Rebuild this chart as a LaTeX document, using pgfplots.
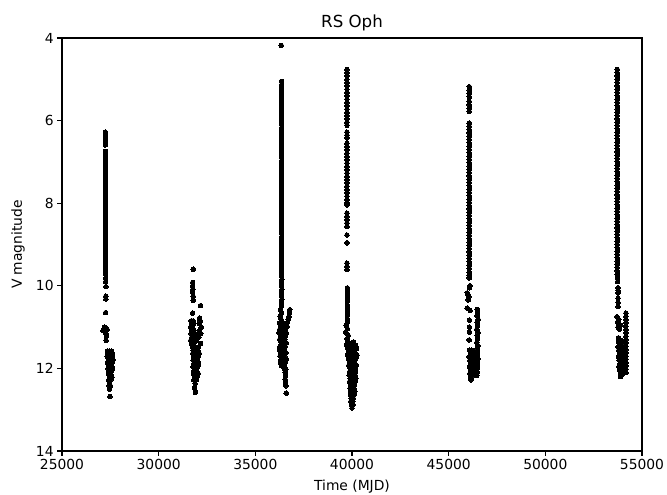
\documentclass[border=0pt]{standalone}
\usepackage{pgfplots}
\pgfplotsset{compat=1.18}
\usepackage{fontspec}
\setmainfont{DejaVu Sans}
\begin{document}
\begin{tikzpicture}
\useasboundingbox (-62bp,-44bp) rectangle (605bp,451bp);
\begin{axis}[
 at={(0,0)}, anchor=south west,
 scale only axis, width=580bp, height=413bp,
 xmin=25000, xmax=55000, ymin=4, ymax=14, y dir=reverse,
 xtick={25000,30000,35000,40000,45000,50000,55000},
 ytick={4,6,8,10,12,14},
 scaled x ticks=false,
 /pgf/number format/1000 sep={},
 /pgf/number format/assume math mode=true,
 tick align=outside, tick pos=left, major tick length=4.9bp,
 every tick/.style={black, line width=1.1bp},
 axis line style={line width=1.1bp},
 ticklabel style={font=\fontsize{13.9}{16}\selectfont},
 title={RS Oph}, xlabel={Time (MJD)}, ylabel={V magnitude},
 title style={font=\fontsize{16.7}{20}\selectfont, at={(axis description cs:0.5,1.022)}, anchor=center},
 xlabel style={font=\fontsize{13.9}{16}\selectfont, at={(axis description cs:0.5,-0.0872)}, anchor=center},
 ylabel style={font=\fontsize{13.9}{16}\selectfont, at={(axis description cs:-0.0759,0.5)}, anchor=center},
 clip=true,
]
\addplot[only marks, mark=*, mark size=2.3bp, mark options={fill=black, draw=black, line width=0pt}] coordinates {
% cluster 1
(27240,6.28) (27250,6.36) (27240,6.44) (27250,6.52) (27240,6.59)
(27250,6.75) (27250,6.83) (27250,6.91) (27250,6.99) (27250,7.07) (27250,7.15) (27250,7.23) (27250,7.31) (27250,7.39) (27250,7.47)
(27250,7.55) (27250,7.63) (27250,7.71) (27250,7.79) (27250,7.87) (27250,7.95) (27250,8.03) (27250,8.11) (27250,8.19) (27250,8.27)
(27250,8.35) (27250,8.43) (27250,8.51) (27250,8.59) (27250,8.67) (27250,8.75) (27250,8.83) (27250,8.91) (27250,8.99) (27250,9.07)
(27250,9.15) (27250,9.23) (27250,9.31) (27250,9.39) (27250,9.47) (27250,9.55) (27250,9.63) (27250,9.71) (27260,9.82) (27260,9.90) (27270,10.02)
(27270,10.25) (27270,10.32) (27260,10.65)
(27120,11.08) (27200,11.0) (27250,11.15) (27330,11.05) (27300,11.2) (27280,11.32)
(27350,11.58) (27450,11.58) (27560,11.58) (27380,11.65) (27500,11.65) (27620,11.65) (27340,11.72) (27460,11.72) (27580,11.72)
(27400,11.79) (27520,11.79) (27640,11.79) (27360,11.86) (27480,11.86) (27600,11.86) (27420,11.93) (27540,11.93)
(27380,12.00) (27500,12.00) (27620,12.00) (27440,12.07) (27560,12.07) (27400,12.14) (27520,12.14) (27460,12.21) (27580,12.21)
(27420,12.28) (27520,12.28) (27460,12.35) (27440,12.42) (27500,12.42) (27460,12.50) (27480,12.68)
% cluster 2
(31790,9.6) (31760,9.92) (31760,10.0) (31770,10.08) (31760,10.16) (31780,10.25) (31790,10.35) (32170,10.48) (31760,10.66) (32120,10.78)
(31680,10.85) (31780,10.85) (32150,10.85) (31700,10.92) (31800,10.92) (32100,10.92) (31660,11.00) (31760,11.00) (32200,11.00)
(31700,11.08) (31820,11.08) (32120,11.08) (31680,11.16) (31780,11.16) (31900,11.16) (32180,11.16) (31720,11.24) (31840,11.24) (32080,11.24)
(31660,11.32) (31760,11.32) (31960,11.32) (31700,11.40) (31820,11.40) (32160,11.40) (31740,11.48) (31880,11.48) (32060,11.48)
(31780,11.56) (31920,11.56) (32020,11.56) (31760,11.64) (31860,11.64) (31980,11.64) (32100,11.64) (31800,11.72) (31920,11.72) (32040,11.72)
(31780,11.80) (31880,11.80) (32000,11.80) (31820,11.88) (31940,11.88) (32060,11.88) (31780,11.96) (31900,11.96) (32020,11.96)
(31840,12.04) (31960,12.04) (31800,12.12) (31920,12.12) (32040,12.12) (31860,12.20) (31980,12.20) (31820,12.28) (31940,12.28)
(31880,12.36) (31860,12.46) (31900,12.58)
% cluster 3
(36340,4.18)
(36360,5.05) (36360,5.13) (36360,5.21) (36360,5.29) (36360,5.37) (36360,5.45) (36360,5.53) (36360,5.61) (36360,5.69) (36360,5.77)
(36360,5.85) (36360,5.93) (36360,6.01) (36360,6.09) (36360,6.17) (36360,6.25) (36360,6.33) (36360,6.41) (36360,6.49) (36360,6.57)
(36360,6.65) (36360,6.73) (36360,6.81) (36360,6.89) (36360,6.97) (36360,7.05) (36360,7.13) (36360,7.21) (36360,7.29) (36360,7.37)
(36360,7.45) (36360,7.53) (36360,7.61) (36360,7.69) (36360,7.77) (36360,7.85) (36360,7.93) (36360,8.01) (36360,8.09) (36360,8.17)
(36360,8.25) (36360,8.33) (36360,8.41) (36360,8.49) (36360,8.57) (36360,8.65) (36360,8.73) (36360,8.81) (36360,8.89) (36360,8.97)
(36360,9.05) (36360,9.13) (36360,9.21) (36360,9.29) (36360,9.37) (36360,9.45) (36360,9.53) (36360,9.61) (36360,9.69) (36360,9.77)
(36370,9.85) (36350,9.93) (36360,10.01) (36370,10.09) (36350,10.17) (36360,10.25) (36370,10.33) (36350,10.41) (36360,10.49)
(36300,10.58) (36780,10.58) (36360,10.66) (36760,10.66) (36280,10.74) (36740,10.74) (36340,10.82) (36700,10.82)
(36240,10.90) (36420,10.90) (36640,10.90) (36300,10.98) (36500,10.98) (36640,10.98) (36260,11.06) (36380,11.06) (36540,11.06)
(36220,11.14) (36340,11.14) (36480,11.14) (36600,11.14) (36300,11.22) (36420,11.22) (36560,11.22) (36260,11.30) (36380,11.30) (36520,11.30)
(36340,11.38) (36460,11.38) (36600,11.38) (36280,11.46) (36400,11.46) (36540,11.46) (36240,11.54) (36360,11.54) (36500,11.54)
(36320,11.62) (36440,11.62) (36580,11.62) (36280,11.70) (36400,11.70) (36520,11.70) (36340,11.78) (36460,11.78) (36600,11.78)
(36300,11.86) (36420,11.86) (36540,11.86) (36360,11.94) (36480,11.94) (36520,12.02) (36580,12.02) (36540,12.10) (36560,12.18)
(36540,12.26) (36560,12.34) (36580,12.42) (36600,12.60)
% cluster 4
(39740,4.76) (39740,4.84) (39740,4.92) (39740,5.00) (39740,5.08) (39740,5.16) (39740,5.24) (39740,5.32) (39740,5.40) (39740,5.48)
(39740,5.56) (39740,5.64) (39740,5.72) (39740,5.80) (39740,5.88) (39740,5.96) (39740,6.04) (39740,6.11)
(39740,6.28) (39740,6.35) (39740,6.42)
(39740,6.55) (39740,6.63) (39740,6.71) (39740,6.79) (39740,6.87) (39740,6.95) (39740,7.03) (39740,7.11) (39740,7.19) (39740,7.27)
(39740,7.35) (39740,7.43) (39740,7.51) (39740,7.59) (39740,7.67) (39740,7.75) (39740,7.83) (39740,7.91) (39740,7.99) (39740,8.04)
(39740,8.24) (39740,8.32) (39740,8.40) (39740,8.48) (39740,8.56) (39740,8.77) (39740,8.96)
(39740,9.45) (39740,9.53) (39740,9.61)
(39760,10.05) (39760,10.13) (39760,10.21) (39760,10.29) (39760,10.37) (39760,10.47) (39760,10.55) (39760,10.63) (39760,10.71) (39760,10.80) (39760,10.88)
(39700,10.96) (39760,11.04) (39680,11.12) (39800,11.2) (39740,11.28)
(39800,11.36) (40080,11.36) (39720,11.44) (39960,11.44) (40180,11.44) (39780,11.52) (40020,11.52) (40240,11.52)
(39840,11.60) (39980,11.60) (40120,11.60) (39760,11.68) (39900,11.68) (40160,11.68) (40260,11.68) (39820,11.76) (40040,11.76) (40200,11.76)
(39880,11.84) (40000,11.84) (40120,11.84) (39840,11.92) (39960,11.92) (40080,11.92) (40220,11.92) (39900,12.00) (40040,12.00) (40160,12.00)
(39880,12.08) (39980,12.08) (40080,12.08) (40180,12.08) (39860,12.16) (39960,12.16) (40060,12.16) (40160,12.16)
(39900,12.24) (40000,12.24) (40100,12.24) (40200,12.24) (39880,12.32) (39980,12.32) (40080,12.32) (40160,12.32)
(39920,12.40) (40020,12.40) (40120,12.40) (39900,12.48) (40000,12.48) (40100,12.48) (39940,12.56) (40040,12.56) (40140,12.56)
(39920,12.64) (40020,12.64) (40100,12.64) (39960,12.72) (40060,12.72) (39940,12.80) (40040,12.80) (39980,12.88) (40060,12.88) (40000,12.96)
% cluster 5
(46065,5.18) (46065,5.26) (46065,5.34) (46065,5.42) (46065,5.54) (46065,5.62) (46065,5.70) (46065,5.78)
(46065,6.06) (46065,6.14) (46065,6.22) (46065,6.30) (46065,6.38) (46065,6.46) (46065,6.54) (46065,6.62) (46065,6.70) (46065,6.78)
(46065,6.86) (46065,6.94) (46065,7.02) (46065,7.10) (46065,7.18) (46065,7.26) (46065,7.34) (46065,7.42) (46065,7.50) (46065,7.58)
(46065,7.66) (46065,7.74) (46065,7.82) (46065,7.90) (46065,7.98) (46065,8.06) (46065,8.14) (46065,8.22) (46065,8.30) (46065,8.38)
(46065,8.46) (46065,8.54) (46065,8.62) (46065,8.70) (46065,8.78) (46065,8.86) (46065,8.94) (46065,9.02) (46065,9.10) (46065,9.18)
(46065,9.26) (46065,9.34) (46065,9.42) (46065,9.50) (46065,9.58) (46065,9.67)
(46065,9.74) (46065,9.81) (46100,10.0) (46080,10.05) (45960,10.17) (46010,10.22) (46040,10.27) (46010,10.34)
(45960,10.54) (46110,10.6) (46070,10.83) (46070,11.0) (46070,11.12) (46060,11.31)
(46080,11.56) (46200,11.56) (46120,11.64) (46280,11.64) (46060,11.72) (46180,11.72) (46340,11.72) (46100,11.80) (46240,11.80)
(46140,11.88) (46300,11.88) (46080,11.96) (46200,11.96) (46360,11.96) (46120,12.04) (46260,12.04) (46100,12.12) (46220,12.12)
(46140,12.20) (46200,12.20) (46160,12.28)
(46480,10.57) (46500,10.65) (46460,10.73) (46520,10.81) (46480,10.89) (46500,10.97) (46460,11.05) (46520,11.13) (46480,11.21) (46500,11.29)
(46460,11.37) (46520,11.45) (46480,11.53) (46500,11.61) (46460,11.69) (46520,11.77) (46480,11.85) (46500,11.93) (46460,12.01) (46480,12.09) (46460,12.17)
% cluster 6
(53720,4.76) (53720,4.84) (53720,4.92) (53720,5.00) (53720,5.08) (53720,5.16) (53720,5.24) (53720,5.32) (53720,5.40) (53720,5.48)
(53720,5.56) (53720,5.64) (53720,5.72) (53720,5.80) (53720,5.88) (53720,5.96) (53720,6.04) (53720,6.12) (53720,6.20) (53720,6.28)
(53720,6.36) (53720,6.44) (53720,6.52) (53720,6.60) (53720,6.68) (53720,6.76) (53720,6.84) (53720,6.92) (53720,7.00) (53720,7.08)
(53720,7.16) (53720,7.24) (53720,7.32) (53720,7.40) (53720,7.48) (53720,7.56) (53720,7.64) (53720,7.72) (53720,7.80) (53720,7.88)
(53720,7.96) (53720,8.04) (53720,8.12) (53720,8.20) (53720,8.28) (53720,8.36) (53720,8.44) (53720,8.52) (53720,8.60) (53720,8.68)
(53720,8.76) (53720,8.84) (53720,8.92) (53720,9.00) (53720,9.08) (53720,9.16) (53720,9.24) (53720,9.32) (53720,9.40) (53720,9.48)
(53720,9.56) (53720,9.64) (53720,9.72)
(53740,9.82) (53740,9.90) (53760,10.05) (53760,10.11) (53760,10.17) (53760,10.30) (53760,10.40) (53760,10.50)
(53700,10.75) (53800,10.82) (53740,10.88) (53900,10.95) (53760,11.0) (53820,11.05) (53780,11.26)
(53780,11.32) (53900,11.32) (53820,11.40) (53960,11.40) (53760,11.48) (53880,11.48) (54000,11.48) (53800,11.56) (53940,11.56)
(53840,11.64) (53980,11.64) (53780,11.72) (53900,11.72) (54020,11.72) (53820,11.80) (53960,11.80) (53860,11.88) (54000,11.88)
(53800,11.96) (53920,11.96) (54040,11.96) (53840,12.04) (53960,12.04) (53880,12.12) (54000,12.12) (53900,12.20)
(54170,10.66) (54170,10.74) (54170,10.82) (54170,10.90) (54170,10.98) (54170,11.06) (54170,11.14) (54170,11.22) (54170,11.30) (54170,11.38)
(54170,11.46) (54170,11.54) (54170,11.62) (54170,11.70) (54170,11.78) (54170,11.86) (54170,11.94) (54170,12.02) (54170,12.10)
};
\end{axis}
\end{tikzpicture}
\end{document}
